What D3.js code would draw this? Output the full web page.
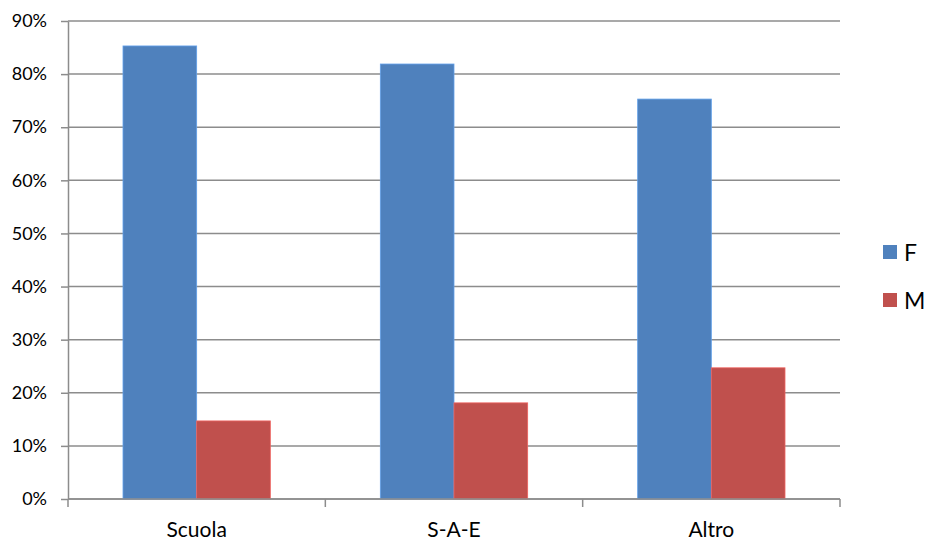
<!DOCTYPE html>
<head>
  <meta charset="utf-8">
  <script src="https://d3js.org/d3.v7.min.js"></script>
  <style>
    body { margin: 0; background: #fff; }
    text { font-family: Lato, "Open Sans", sans-serif; fill: #000; }
    .grid line { stroke: #8c8c8c; stroke-width: 1.5; }
    .axis path, .axis line { stroke: #8c8c8c; stroke-width: 1.5; }
  </style>
</head>
<body>
  <svg id="chart" width="928" height="541"></svg>
  <script>
    var categories = ['Scuola', 'S-A-E', 'Altro'];
    var seriesNames = ['F', 'M'];
    var valuesF = [0.853, 0.819, 0.753];
    var valuesM = [0.147, 0.181, 0.247];
    var yTicks = [0, 0.1, 0.2, 0.3, 0.4, 0.5, 0.6, 0.7, 0.8, 0.9];
    var colors = ['#4f81bd', '#c0504d'];

    var chart = d3.select('#chart');
    var margin = { left: 68, right: 88, top: 21, bottom: 42 };
    var width = 928 - margin.left - margin.right;
    var height = 541 - margin.top - margin.bottom;

    var x = d3.scaleBand().domain(categories).range([0, width]).paddingInner(0).paddingOuter(0);
    var xInner = d3.scaleBand().domain(seriesNames).range([55, x.bandwidth() - 55]);
    var y = d3.scaleLinear().domain([0, 0.9]).range([height, 0]);

    var g = chart.append('g').attr('transform', 'translate(' + margin.left + ',' + margin.top + ')');

    g.append('g').attr('class', 'grid')
      .selectAll('line').data(yTicks).join('line')
      .attr('x1', 0).attr('x2', width)
      .attr('y1', (d) => y(d)).attr('y2', (d) => y(d));

    var rows = [valuesF, valuesM];
    seriesNames.forEach((s, si) => {
      g.append('g').selectAll('rect').data(categories).join('rect')
        .attr('x', (c) => x(c) + xInner(s))
        .attr('width', xInner.bandwidth())
        .attr('y', (c, i) => y(rows[si][i]))
        .attr('height', (c, i) => y(0) - y(rows[si][i]))
        .attr('fill', colors[si])
        .attr('stroke', d3.color(colors[si]).brighter(0.6))
        .attr('stroke-width', 0.8);
    });

    var yAxis = g.append('g').attr('class', 'axis')
      .call(d3.axisLeft(y).tickValues(yTicks).tickFormat(d3.format('.0%')).tickSize(7).tickSizeOuter(0));
    yAxis.selectAll('text').style('font-size', '18px').attr('x', -21);

    var xAxis = g.append('g').attr('class', 'axis')
      .attr('transform', 'translate(0,' + height + ')');
    xAxis.append('line').attr('x1', 0).attr('x2', width);
    xAxis.selectAll('line.tick').data(d3.range(categories.length + 1)).join('line')
      .attr('class', 'tick')
      .attr('x1', (i) => i * x.step()).attr('x2', (i) => i * x.step())
      .attr('y1', 0).attr('y2', 8);
    xAxis.selectAll('text').data(categories).join('text')
      .attr('x', (c) => x(c) + x.bandwidth() / 2)
      .attr('y', 38)
      .attr('text-anchor', 'middle')
      .style('font-size', '21px')
      .text((c) => c);

    var legend = chart.append('g').attr('transform', 'translate(883,245)');
    seriesNames.forEach((s, i) => {
      var item = legend.append('g').attr('transform', 'translate(0,' + i * 48 + ')');
      item.append('rect').attr('width', 14).attr('height', 14).attr('fill', colors[i]);
      item.append('text').attr('x', 21).attr('y', 16).style('font-size', '23px').text(s);
    });
  </script>
</body>
</html>
